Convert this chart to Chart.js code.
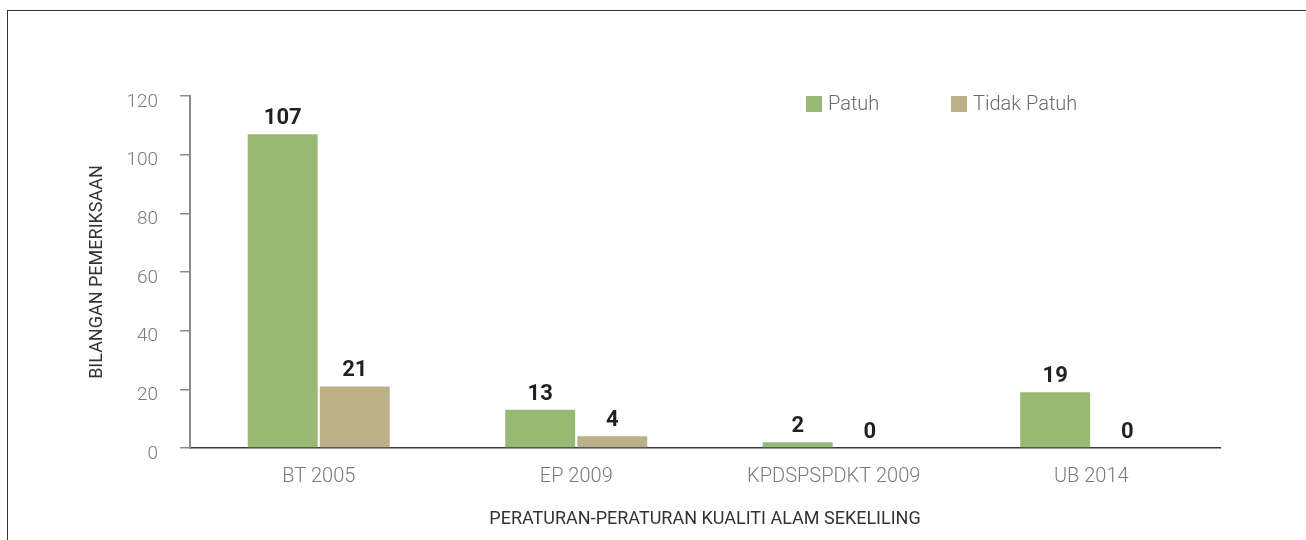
<!DOCTYPE html>
<html>
<head>
<meta charset="utf-8">
<script src="https://cdn.jsdelivr.net/npm/chart.js@4.4.0/dist/chart.umd.min.js"></script>
<style>
  html, body { margin: 0; padding: 0; background: #fff; overflow: hidden; }
  #wrap { position: relative; width: 1306px; height: 540px; }
  #frame { position: absolute; left: 7px; top: 10px; right: -10px; bottom: -10px;
           border-top: 1px solid #333; border-left: 1px solid #333; }
  canvas { position: absolute; left: 0; top: 0; }
</style>
</head>
<body>
<div id="wrap">
  <div id="frame"></div>
  <canvas id="chart" width="1306" height="540"></canvas>
</div>
<script>
// data
const categories = ['BT 2005', 'EP 2009', 'KPDSPSPDKT 2009', 'UB 2014'];
const patuh = [107, 13, 2, 19];
const tidakPatuh = [21, 4, 0, 0];
const seriesNames = ['Patuh', 'Tidak Patuh'];
const yMin = 0, yMax = 120, yStep = 20;

const GREEN = '#97b974';
const TAN = '#bcb088';

Chart.defaults.font.family = 'Roboto, "Open Sans", sans-serif';

// numbers above the bars
const valueLabels = {
  id: 'valueLabels',
  afterDatasetsDraw(chart) {
    const ctx = chart.ctx;
    ctx.save();
    ctx.font = 'bold 22px Roboto, sans-serif';
    ctx.fillStyle = '#231f20';
    ctx.textAlign = 'center';
    ctx.textBaseline = 'alphabetic';
    chart.data.datasets.forEach((ds, i) => {
      chart.getDatasetMeta(i).data.forEach((bar, j) => {
        ctx.fillText(String(ds.data[j]), bar.x, bar.y - 10);
      });
    });
    ctx.restore();
  }
};

// legend sits inside the plot, top right
const insideLegend = {
  id: 'insideLegend',
  afterDraw(chart) {
    const ctx = chart.ctx;
    const xs = [806, 951];
    const top = 96;
    ctx.save();
    ctx.font = '300 20px Roboto, sans-serif';
    ctx.textBaseline = 'middle';
    ctx.textAlign = 'left';
    chart.data.datasets.forEach((ds, i) => {
      ctx.fillStyle = ds.backgroundColor;
      ctx.fillRect(xs[i], top, 16, 16);
      ctx.fillStyle = '#6b6b6b';
      ctx.fillText(ds.label, xs[i] + 22, top + 9);
    });
    ctx.restore();
  }
};

new Chart(document.getElementById('chart'), {
  type: 'bar',
  data: {
    labels: categories,
    datasets: [
      { label: seriesNames[0], data: patuh, backgroundColor: GREEN },
      { label: seriesNames[1], data: tidakPatuh, backgroundColor: TAN }
    ]
  },
  options: {
    responsive: false,
    animation: false,
    devicePixelRatio: 1,
    categoryPercentage: 0.56,
    barPercentage: 0.97,
    layout: { padding: { top: 96, right: 86, left: 0, bottom: 0 } },
    plugins: {
      legend: { display: false },
      tooltip: { enabled: false }
    },
    scales: {
      x: {
        grid: { display: false },
        border: { display: true, color: '#3a3a3a', width: 1.5 },
        ticks: {
          color: '#7a7a7a',
          padding: 9,
          font: { size: 20, weight: 300 }
        },
        title: {
          display: true,
          text: 'PERATURAN-PERATURAN KUALITI ALAM SEKELILING',
          color: '#333',
          font: { size: 18, weight: 400 },
          padding: { top: 0, bottom: 10 }
        },
        afterFit(scale) { scale.height = 92; }
      },
      y: {
        min: yMin,
        max: yMax,
        grid: {
          drawOnChartArea: false,
          drawTicks: true,
          tickLength: 10,
          color: '#8a8a8a',
          lineWidth: 1.5
        },
        border: { display: true, color: '#8a8a8a', width: 2 },
        ticks: {
          stepSize: yStep,
          color: '#7a7a7a',
          padding: 22,
          labelOffset: 6,
          font: { size: 19, weight: 300 }
        },
        title: {
          display: true,
          text: 'BILANGAN PEMERIKSAAN',
          color: '#333',
          font: { size: 18, weight: 400 },
          padding: { top: 87, bottom: 0 }
        },
        afterFit(scale) { scale.width = 190; }
      }
    }
  },
  plugins: [valueLabels, insideLegend]
});
</script>
</body>
</html>
